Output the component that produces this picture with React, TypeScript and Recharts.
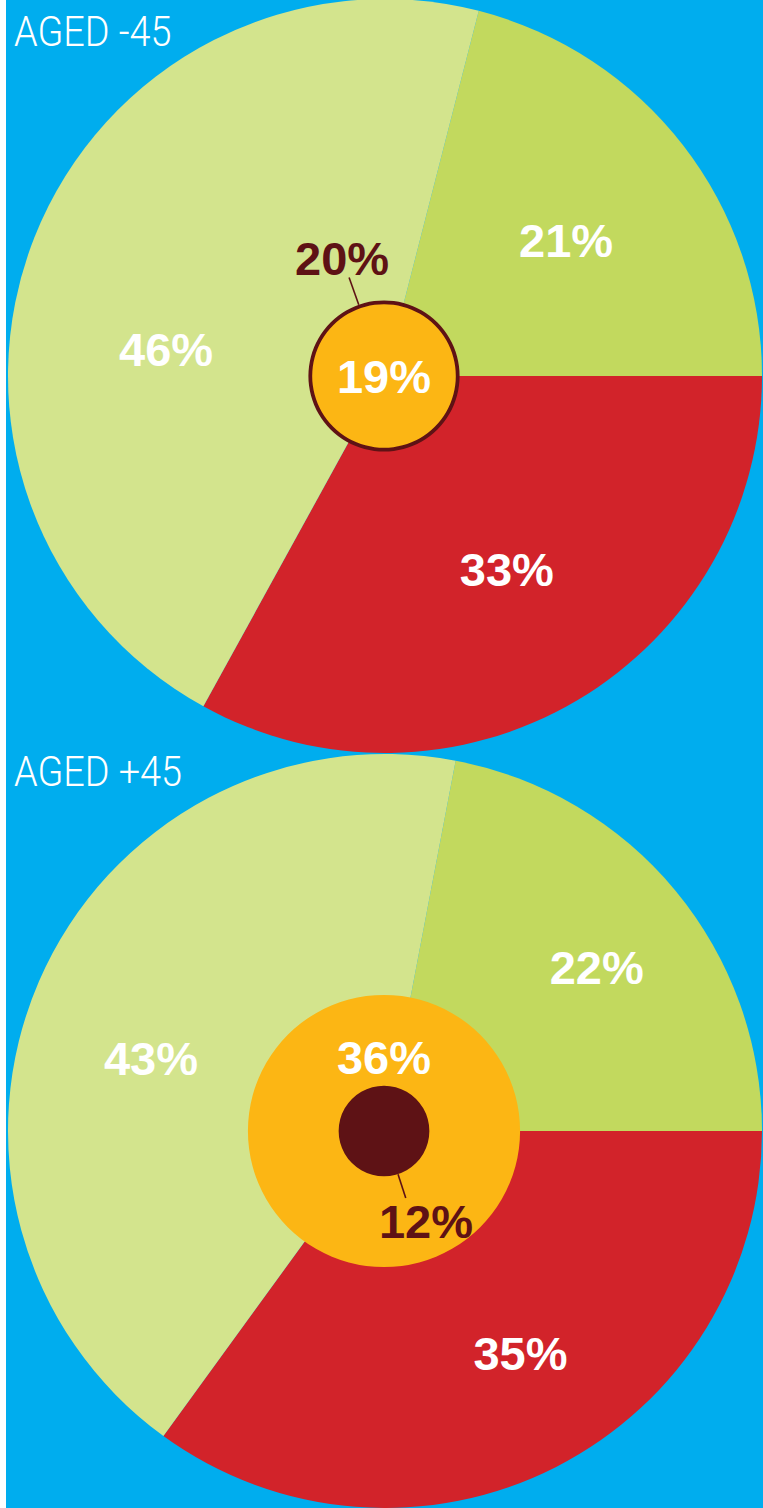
import React from 'react';
import { PieChart, Pie, Cell } from 'recharts';

// ---------- data ----------
const sliceNames = ['Green', 'Red', 'Pale green'];
const under45Values = [21, 33, 46];
const over45Values = [22, 35, 43];
const under45Inner = [20, 19]; // brown (behind), orange (front)
const over45Inner = [36, 12]; // orange (behind), brown (front)
const titles = ['AGED -45', 'AGED +45'];

// ---------- styles / layout ----------
const W = 763;
const H = 1508;
const BLUE = '#00ADEE';
const SLICE_COLORS = ['#C2D95E', '#D2232A', '#D3E48D'];
const ORANGE = '#FCB614';
const BROWN = '#5E1215';
const BOLD_FONT = '"Liberation Sans", Arial, sans-serif';
const TITLE_FONT = 'Roboto, "Liberation Sans", sans-serif';
const FS = 47;
const R = 377;
const K = 3.78; // inner-circle radius per percentage point
const RAD = Math.PI / 180;

const charts = [
  {
    values: under45Values,
    inner: under45Inner,
    cx: 385,
    cy: 376,
    start: 75.6,
    shift: [-1.0, 1.7, 14.7],
    rf: [0.6, 0.605, 0.585],
    title: titles[0],
    titleTop: 11,
  },
  {
    values: over45Values,
    inner: over45Inner,
    cx: 385,
    cy: 1131,
    start: 79.2,
    shift: [-1.9, 4.4, 6.1],
    rf: [0.71, 0.69, 0.65],
    title: titles[1],
    titleTop: 751,
  },
];

const makeOuterLabel = (shift: number[], rf: number[]) => (p: any) => {
  const i = p.index;
  const a = (p.midAngle + shift[i]) * RAD;
  const r = p.outerRadius * rf[i];
  const x = p.cx + r * Math.cos(a);
  const y = p.cy - r * Math.sin(a);
  return (
    <text
      key={`l${i}`}
      x={x}
      y={y + FS * 0.36}
      textAnchor="middle"
      fill="#FFFFFF"
      fontFamily={BOLD_FONT}
      fontWeight="bold"
      fontSize={FS}
    >
      {`${p.value}%`}
    </text>
  );
};

// label for the inner circles: centered text, text above the centre, or a leader-line label
const makeInnerLabel = (
  mode: 'center' | 'above' | 'leader',
  color: string,
  lineAngleCw: number,
  textAngleCw: number,
  lineFrom: number,
  lineTo: number,
  textR: number
) => (p: any) => {
  const { cx, cy, outerRadius, value } = p;
  if (mode === 'center') {
    return (
      <text x={cx} y={cy + FS * 0.36} textAnchor="middle" fill={color} fontFamily={BOLD_FONT} fontWeight="bold" fontSize={FS}>
        {`${value}%`}
      </text>
    );
  }
  if (mode === 'above') {
    return (
      <text x={cx} y={cy - outerRadius * 0.545 + FS * 0.36} textAnchor="middle" fill={color} fontFamily={BOLD_FONT} fontWeight="bold" fontSize={FS}>
        {`${value}%`}
      </text>
    );
  }
  const a = lineAngleCw * RAD;
  const sx = Math.sin(a);
  const sy = -Math.cos(a);
  const b = textAngleCw * RAD;
  const r1 = outerRadius + lineFrom;
  const r2 = outerRadius + lineTo;
  const rt = outerRadius + textR;
  return (
    <g>
      <line x1={cx + r1 * sx} y1={cy + r1 * sy} x2={cx + r2 * sx} y2={cy + r2 * sy} stroke={BROWN} strokeWidth={1.6} />
      <text
        x={cx + rt * Math.sin(b)}
        y={cy - rt * Math.cos(b) + FS * 0.36}
        textAnchor="middle"
        fill={color}
        fontFamily={BOLD_FONT}
        fontWeight="bold"
        fontSize={FS}
      >
        {`${value}%`}
      </text>
    </g>
  );
};

export default function App() {
  const top = charts[0];
  const bot = charts[1];
  return (
    <div style={{ position: 'absolute', left: 0, top: 0, width: W, height: H, background: '#FFFFFF', overflow: 'hidden' }}>
      <div style={{ position: 'absolute', left: 6, top: 0, width: W - 6, height: H, background: BLUE }} />
      <div style={{ position: 'absolute', left: 0, top: 0 }}>
        <PieChart width={W} height={H} margin={{ top: 0, right: 0, bottom: 0, left: 0 }}>
          {charts.map((c, ci) => (
            <Pie
              key={`outer${ci}`}
              data={c.values.map((v, i) => ({ name: sliceNames[i], value: v }))}
              dataKey="value"
              cx={c.cx}
              cy={c.cy}
              innerRadius={0}
              outerRadius={R}
              startAngle={c.start}
              endAngle={c.start - 360}
              stroke="none"
              isAnimationActive={false}
              labelLine={false}
              label={makeOuterLabel(c.shift, c.rf)}
            >
              {c.values.map((_, i) => (
                <Cell key={i} fill={SLICE_COLORS[i]} />
              ))}
            </Pie>
          ))}
          {/* top chart inner circles */}
          <Pie
            data={[{ name: 'brown', value: top.inner[0] }]}
            dataKey="value"
            cx={top.cx - 1}
            cy={top.cy}
            innerRadius={0}
            outerRadius={top.inner[0] * K}
            startAngle={90}
            endAngle={-270}
            stroke="none"
            fill={BROWN}
            isAnimationActive={false}
            labelLine={false}
            label={makeInnerLabel('leader', BROWN, -19.5, -19.5, 0, 29, 50)}
          />
          <Pie
            data={[{ name: 'orange', value: top.inner[1] }]}
            dataKey="value"
            cx={top.cx - 1}
            cy={top.cy}
            innerRadius={0}
            outerRadius={top.inner[1] * K}
            startAngle={90}
            endAngle={-270}
            stroke="none"
            fill={ORANGE}
            isAnimationActive={false}
            labelLine={false}
            label={makeInnerLabel('center', '#FFFFFF', 0, 0, 0, 0, 0)}
          />
          {/* bottom chart inner circles */}
          <Pie
            data={[{ name: 'orange', value: bot.inner[0] }]}
            dataKey="value"
            cx={bot.cx - 1}
            cy={bot.cy}
            innerRadius={0}
            outerRadius={bot.inner[0] * K}
            startAngle={90}
            endAngle={-270}
            stroke="none"
            fill={ORANGE}
            isAnimationActive={false}
            labelLine={false}
            label={makeInnerLabel('above', '#FFFFFF', 0, 0, 0, 0, 0)}
          />
          <Pie
            data={[{ name: 'brown', value: bot.inner[1] }]}
            dataKey="value"
            cx={bot.cx - 1}
            cy={bot.cy}
            innerRadius={0}
            outerRadius={bot.inner[1] * K}
            startAngle={90}
            endAngle={-270}
            stroke="none"
            fill={BROWN}
            isAnimationActive={false}
            labelLine={false}
            label={makeInnerLabel('leader', BROWN, 162, 155, 0, 25, 54)}
          />
        </PieChart>
      </div>
      {charts.map((c, ci) => (
        <div
          key={`t${ci}`}
          style={{
            position: 'absolute',
            left: 14,
            top: c.titleTop,
            color: '#FFFFFF',
            fontFamily: TITLE_FONT,
            fontWeight: 300,
            fontSize: 42,
            lineHeight: '42px',
            whiteSpace: 'nowrap',
            transform: 'scaleX(0.9)',
            transformOrigin: 'left top',
          }}
        >
          {c.title}
        </div>
      ))}
    </div>
  );
}
